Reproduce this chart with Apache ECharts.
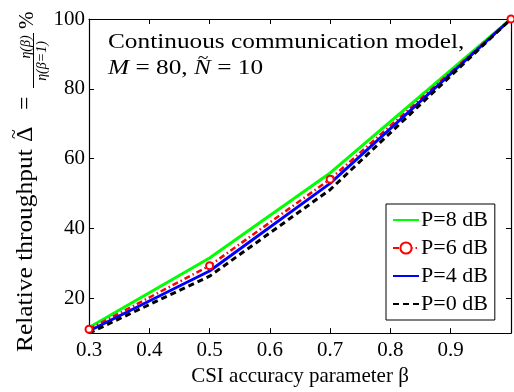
<!DOCTYPE html>
<html>
<head>
<meta charset="utf-8">
<script src="https://cdn.jsdelivr.net/npm/echarts@6/dist/echarts.min.js"></script>
<style>
  html, body { margin: 0; padding: 0; background: #fff; }
  #chart { width: 514px; height: 392px; }
</style>
</head>
<body>
<div id="chart"></div>
<script>
const beta = [0.3, 0.5, 0.7, 1.0]
const p8 = [11.6, 31.5, 55.9, 100]
const p6 = [11.1, 29.3, 54.1, 100]
const p4 = [10.6, 27.8, 52.9, 100]
const p0 = [10.0, 26.3, 51.1, 100]
const xTicks = [0.3, 0.4, 0.5, 0.6, 0.7, 0.8, 0.9]
const yTicks = [20, 40, 60, 80, 100]
const legendNames = ['P=8 dB', 'P=6 dB', 'P=4 dB', 'P=0 dB']

const serif = 'Liberation Serif'
const pair = (ys) => beta.map((b, i) => [b, ys[i]])

const myChart = echarts.init(document.getElementById('chart'))

const baseX = {
  type: 'value',
  min: 0.3,
  max: 1.0,
  splitLine: { show: false },
  axisLine: { lineStyle: { color: '#000', width: 1.2 } },
  axisTick: { inside: true, length: 5, customValues: xTicks, lineStyle: { color: '#000' } }
}
const baseY = {
  type: 'value',
  min: 10,
  max: 100,
  splitLine: { show: false },
  axisLine: { show: true, lineStyle: { color: '#000', width: 1.2 } },
  axisTick: { show: true, inside: true, length: 5, customValues: yTicks, lineStyle: { color: '#000' } }
}

// text piece placed at (x, y) inside a group
const piece = (text, x, y, size, extra, sx) => ({
  type: 'text',
  x: x,
  y: y,
  scaleX: sx || 1,
  style: {
    text: text,
    fontFamily: serif,
    fontSize: size,
    fill: '#000',
    textVerticalAlign: 'bottom',
    ...extra
  }
})

const option = {
  animation: false,
  grid: { left: 89, right: 3, top: 19, bottom: 46 },
  xAxis: [
    {
      ...baseX,
      position: 'bottom',
      name: 'CSI accuracy parameter β',
      nameLocation: 'middle',
      nameGap: 31,
      nameTextStyle: { fontFamily: serif, fontSize: 21, color: '#000' },
      axisLabel: {
        customValues: xTicks,
        margin: 7,
        fontFamily: serif,
        fontSize: 21,
        color: '#000',
        formatter: (v) => v.toFixed(1)
      }
    },
    { ...baseX, position: 'top', axisLabel: { show: false } }
  ],
  yAxis: [
    {
      ...baseY,
      position: 'left',
      axisLabel: {
        customValues: yTicks,
        margin: 4,
        fontFamily: serif,
        fontSize: 21,
        color: '#000'
      }
    },
    { ...baseY, position: 'right', axisLabel: { show: false } }
  ],
  legend: {
    orient: 'vertical',
    left: 386,
    top: 204,
    padding: [5, 7, 5, 6],
    itemGap: 6,
    itemWidth: 26,
    itemHeight: 14,
    borderColor: '#000',
    borderWidth: 1,
    borderRadius: 0,
    backgroundColor: '#fff',
    textStyle: { fontFamily: serif, fontSize: 22, color: '#000', padding: [0, 0, 0, -3] },
    data: [
      { name: legendNames[0], itemStyle: { opacity: 0 } },
      { name: legendNames[1], itemStyle: { color: '#fff', borderColor: '#ff0000', borderWidth: 2 } },
      { name: legendNames[2], itemStyle: { opacity: 0 } },
      { name: legendNames[3], itemStyle: { opacity: 0 } }
    ]
  },
  series: [
    {
      name: legendNames[0],
      type: 'line',
      data: pair(p8),
      symbol: 'none',
      color: '#00ff00',
      lineStyle: { width: 3, color: '#00ff00' }
    },
    {
      name: legendNames[1],
      type: 'line',
      data: pair(p6),
      symbol: 'circle',
      symbolSize: 7,
      color: '#ff0000',
      itemStyle: { color: '#fff', borderColor: '#ff0000', borderWidth: 2 },
      lineStyle: { width: 2.5, color: '#ff0000', type: [6, 3, 1.5, 3] },
      z: 3
    },
    {
      name: legendNames[2],
      type: 'line',
      data: pair(p4),
      symbol: 'none',
      color: '#0000ff',
      lineStyle: { width: 3, color: '#0000ff' }
    },
    {
      name: legendNames[3],
      type: 'line',
      data: pair(p0),
      symbol: 'none',
      color: '#000',
      lineStyle: { width: 3, color: '#000', type: [6, 4] }
    }
  ],
  graphic: [
    {
      // annotation, widened a bit to look like the LaTeX font
      type: 'group',
      x: 108,
      y: 0,
      scaleX: 1.15,
      children: [
        piece('Continuous communication model,', 0, 53, 22),
        piece('{i|M} = 80, {i|N} = 10', 0, 79, 22, {
          rich: { i: { fontStyle: 'italic', fontSize: 22, fontFamily: serif } }
        }),
        piece('~', 78, 67, 17)
      ]
    },
    {
      // rotated y axis name with a small fraction
      type: 'group',
      x: 38,
      y: 352,
      rotation: Math.PI / 2,
      children: [
        piece('Relative throughput', 0, 0, 24, {}, 1.06),
        piece('Δ', 210, 0, 24),
        piece('~', 213, -14, 18),
        piece('=', 242, 0, 24),
        piece('η(β)', 305, -5, 14, { fontStyle: 'italic', textAlign: 'center' }),
        {
          type: 'line',
          shape: { x1: 264, y1: -4.5, x2: 319, y2: -4.5 },
          style: { stroke: '#000', lineWidth: 1 }
        },
        piece('η(β=1)', 291, -3, 14, { fontStyle: 'italic', textAlign: 'center', textVerticalAlign: 'top' }),
        piece('%', 323, 0, 21)
      ]
    }
  ]
}

myChart.setOption(option)
</script>
</body>
</html>
